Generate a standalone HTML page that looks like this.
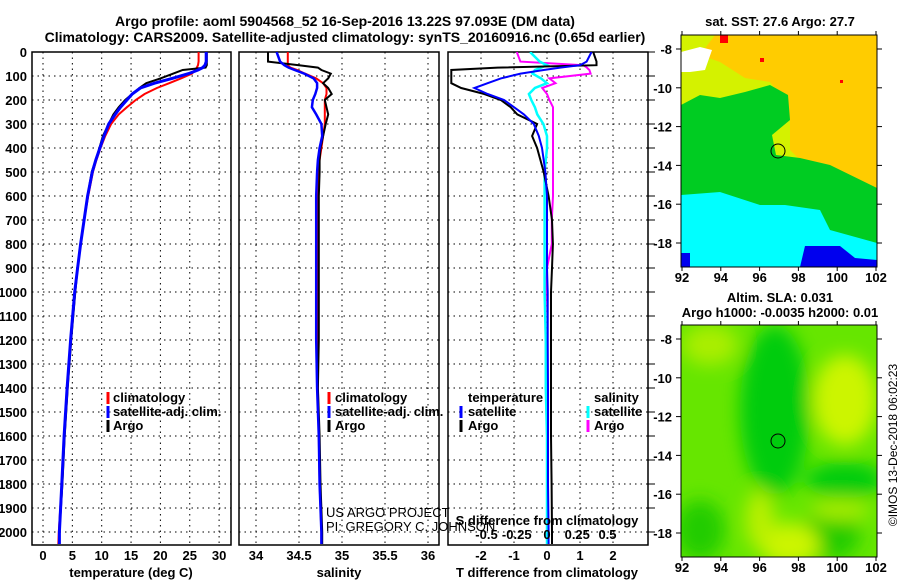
<!DOCTYPE html>
<html><head><meta charset="utf-8"><style>
html,body{margin:0;padding:0;background:#fff;}
svg{display:block;font-family:"Liberation Sans",Arial,sans-serif;}
.b{font-weight:bold;font-size:13px;}
</style></head><body>
<svg id="fig" width="900" height="580" viewBox="0 0 900 580" xmlns="http://www.w3.org/2000/svg">
<defs>
<filter id="blur" x="-10%" y="-10%" width="120%" height="120%"><feGaussianBlur stdDeviation="9"/></filter>
<clipPath id="cm1"><rect x="681" y="35" width="196" height="232"/></clipPath>
<clipPath id="cm2"><rect x="681" y="325" width="196" height="232"/></clipPath>
<clipPath id="cp1"><rect x="32" y="52" width="199" height="493"/></clipPath>
<clipPath id="cp2"><rect x="239" y="52" width="200" height="493"/></clipPath>
<clipPath id="cp3"><rect x="448" y="52" width="200" height="493"/></clipPath>
</defs>
<text x="345" y="26" text-anchor="middle" font-weight="bold" font-size="14">Argo profile: aoml 5904568_52 16-Sep-2016 13.22S 97.093E (DM data)</text>
<text x="345" y="42" text-anchor="middle" font-weight="bold" font-size="14">Climatology: CARS2009. Satellite-adjusted climatology: synTS_20160916.nc (0.65d earlier)</text>

<g id="maps">
<text x="780" y="26" text-anchor="middle" class="b">sat. SST: 27.6 Argo: 27.7</text>
<g clip-path="url(#cm1)">
<rect x="681" y="35" width="196" height="232" fill="#d4f200"/>
<polygon fill="#ffcc00" points="715,35 877,35 877,195 850,180 820,165 800,160 790,150 790,120 780,95 770,82 745,78 720,62 700,55"/>
<polygon fill="#00cc22" points="681,105 700,95 720,98 745,92 770,85 788,95 790,120 772,135 776,155 800,158 830,165 877,188 877,267 681,267"/>
<polygon fill="#00ffff" points="681,195 720,192 760,205 785,205 820,210 830,230 877,243 877,267 681,267"/>
<polygon fill="#0000ee" points="805,246 840,246 855,258 877,260 877,267 800,267"/>
<polygon fill="#0000ee" points="681,253 690,253 690,267 681,267"/>
<polygon fill="#ffffff" points="681,52 700,47 712,50 705,70 690,72 681,72"/>
<rect x="720" y="35" width="8" height="8" fill="#ff0000"/>
<rect x="760" y="58" width="4" height="4" fill="#ff0000"/>
<rect x="840" y="80" width="3" height="3" fill="#ff0000"/>
</g>
<rect x="681" y="35" width="196" height="232" fill="none" stroke="#000"/>
<circle cx="778" cy="151" r="7" fill="none" stroke="#000"/>
<text x="780" y="302" text-anchor="middle" class="b">Altim. SLA: 0.031</text>
<text x="780" y="317" text-anchor="middle" class="b">Argo h1000: -0.0035 h2000: 0.01</text>
<g clip-path="url(#cm2)">
<rect x="681" y="325" width="196" height="232" fill="#66e600"/>
<g filter="url(#blur)">
<ellipse cx="775" cy="410" rx="35" ry="85" fill="#00cc11"/>
<ellipse cx="845" cy="480" rx="40" ry="18" fill="#00cc11"/>
<ellipse cx="700" cy="530" rx="25" ry="30" fill="#22cc00"/>
<ellipse cx="830" cy="535" rx="30" ry="25" fill="#22cc00"/>
<ellipse cx="845" cy="400" rx="32" ry="45" fill="#ccf500"/>
<ellipse cx="790" cy="545" rx="30" ry="22" fill="#ccf500"/>
<ellipse cx="760" cy="520" rx="14" ry="30" fill="#bbf000"/>
<ellipse cx="710" cy="345" rx="28" ry="20" fill="#aaee00"/>
<ellipse cx="840" cy="510" rx="30" ry="10" fill="#aaee00"/>
</g>
</g>
<rect x="681" y="325" width="196" height="232" fill="none" stroke="#000"/>
<circle cx="778" cy="441" r="7" fill="none" stroke="#000"/>
<text transform="translate(897,445) rotate(-90)" text-anchor="middle" font-size="12">©IMOS 13-Dec-2018 06:02:23</text>
<g id="mapaxes"></g>
</g>
<g id="panels"></g>
<text x="326" y="517" font-size="13">US ARGO PROJECT</text>
<text x="326" y="531" font-size="13">PI: GREGORY C. JOHNSON</text>
</svg>
<script>
// depth levels (dbar) shared by profiles
const depthsShallow = [0,40,55,65,75,90,110,130,150,175,200,230,260,300,350,400,450,500,600,700,800,900,1000,1200,1400,1600,1800,2000,2050];
const tempClim = [26.5,26.5,26.4,26.2,25.9,25.4,23.5,21.5,19.4,17.3,15.8,14.3,12.9,11.6,10.6,9.8,9.1,8.5,7.7,7.0,6.4,5.9,5.4,4.7,4.1,3.6,3.2,2.7,2.6];
const tempSat  = [27.8,27.8,27.6,27.2,26.4,24.8,22.0,19.0,16.6,15.2,14.3,13.2,12.3,11.2,10.4,9.7,9.0,8.4,7.6,7.0,6.4,5.9,5.4,4.7,4.1,3.6,3.2,2.8,2.8];
const tempArgo = [27.9,27.9,27.9,27.7,23.8,22.2,20.0,17.6,16.4,15.2,14.0,12.9,12.0,11.2,10.2,9.6,9.0,8.3,7.6,7.0,6.4,5.9,5.5,4.8,4.2,3.7,3.3,2.8,2.8];
const salClim = [34.37,34.37,34.37,34.40,34.48,34.57,34.70,34.78,34.82,34.82,34.80,34.80,34.80,34.80,34.78,34.76,34.74,34.73,34.72,34.72,34.72,34.72,34.72,34.72,34.72,34.73,34.74,34.76,34.76];
const salSat  = [34.24,34.28,34.33,34.38,34.45,34.56,34.67,34.71,34.71,34.69,34.66,34.65,34.70,34.76,34.77,34.74,34.72,34.71,34.70,34.70,34.70,34.70,34.70,34.70,34.71,34.73,34.74,34.76,34.76];
const salArgo = [34.14,34.14,34.50,34.72,34.76,34.87,34.84,34.78,34.84,34.88,34.80,34.82,34.84,34.81,34.78,34.75,34.74,34.74,34.73,34.73,34.73,34.73,34.73,34.73,34.72,34.74,34.75,34.77,34.77];
const tdiffSat  = [1.35,1.2,1.0,0.4,-0.1,-0.8,-1.4,-1.8,-2.2,-1.8,-1.3,-1.0,-0.7,-0.4,-0.25,-0.15,-0.1,-0.05,0,0,0,0,0.02,0.02,0.03,0.03,0.03,0.05,0.05];
const tdiffArgo = [1.4,1.5,1.5,-1.5,-2.9,-2.9,-2.9,-2.9,-2.6,-1.9,-1.4,-1.1,-0.9,-0.3,-0.45,-0.3,-0.2,-0.1,0.05,0.15,0.18,0.15,0.12,0.12,0.12,0.12,0.14,0.15,0.15];
const sdiffSat  = [-0.14,-0.06,0.0,-0.05,-0.10,-0.12,-0.05,0.0,-0.10,-0.15,-0.13,-0.10,-0.08,-0.03,0.0,0.0,-0.01,-0.02,-0.02,-0.02,-0.02,-0.02,-0.02,-0.01,-0.01,0,0,0.0,0.0];
const sdiffArgo = [-0.25,-0.22,0.3,0.33,0.35,0.36,0.02,0.07,-0.04,0.0,0.02,0.05,0.05,0.05,0.05,0.05,0.05,0.05,0.05,0.04,0.04,0.0,-0.01,-0.01,-0.01,0.0,0.0,0.0,0.0];
const depthTicks = [0,100,200,300,400,500,600,700,800,900,1000,1100,1200,1300,1400,1500,1600,1700,1800,1900,2000];
const tempTicks = [0,5,10,15,20,25,30];
const salTicks = [34,34.5,35,35.5,36];
const salTickLabels = ["34","34.5","35","35.5","36"];
const tdiffTicks = [-2,-1,0,1,2];
const sdiffTicks = [-0.5,-0.25,0,0.25,0.5];
const sdiffTickLabels = ["-0.5","-0.25","0","0.25","0.5"];
const latTicks = [-8,-10,-12,-14,-16,-18];
const lonTicks = [92,94,96,98,100,102];

const NS='http://www.w3.org/2000/svg';
const panels=document.getElementById('panels');
function mk(tag,attrs,parent){const e=document.createElementNS(NS,tag);for(const k in attrs)e.setAttribute(k,attrs[k]);(parent||panels).appendChild(e);return e;}
const yD=d=>52+d*0.24;
const xT=t=>43+t*5.87;
const xS=s=>256+(s-34)*86;
const xTd=t=>547+t*33;
const xSd=s=>547+s*121;

function frame(x0,x1,clip,name){
  const g=mk('g',{});
  
  
  const f=mk('rect',{x:x0,y:52,width:x1-x0,height:493,fill:'none',stroke:'#000','stroke-width':1.5},g);
  
  
  const gg=mk('g',{'clip-path':'url(#'+clip+')'},g);
  depthTicks.forEach(d=>{if(d>0){mk('line',{x1:x0,x2:x1,y1:yD(d),y2:yD(d),stroke:'#000','stroke-dasharray':'1.5,4'},gg);}});
  return {g,gg};
}
function vgrid(gg,vals,fx){vals.forEach(v=>mk('line',{x1:fx(v),x2:fx(v),y1:52,y2:545,stroke:'#000','stroke-dasharray':'1.5,4'},gg));}
function line(gg,xs,fx,color,w,name){
  const pts=depthsShallow.map((d,i)=>fx(xs[i]).toFixed(1)+','+yD(d).toFixed(1)).join(' ');
  const p=mk('polyline',{points:pts,fill:'none',stroke:color,'stroke-width':w},gg);
  
  
}
function txt(x,y,s,anchor,parent,name,size){
  const t=mk('text',{x:x,y:y,'text-anchor':anchor||'start','font-weight':'bold','font-size':size||13},parent);
  t.textContent=s;
  
  
  return t;
}
function legendTick(x,y,color,parent){mk('line',{x1:x,x2:x,y1:y-6,y2:y+6,stroke:color,'stroke-width':3},parent);}

// Panel 1 temperature
let p=frame(32,231,'cp1','temperature-panel');
vgrid(p.gg,tempTicks,xT);
line(p.gg,tempClim,xT,'#ff0000',2,'temperature-climatology-line');
line(p.gg,tempArgo,xT,'#000000',2,'temperature-argo-line');
line(p.gg,tempSat,xT,'#0000ff',3,'temperature-satellite-line');
depthTicks.forEach(d=>txt(27,yD(d)+5,String(d),'end',p.g,'depth-tick-label'));
tempTicks.forEach(t=>txt(xT(t),560,String(t),'middle',p.g,'temperature-tick-label'));
txt(131,577,'temperature (deg C)','middle',p.g,'temperature-axis-title');
[['climatology','#ff0000',402],['satellite-adj. clim.','#0000ff',416],['Argo','#000',430]].forEach(l=>{legendTick(108,l[2]-4,l[1],p.g);txt(113,l[2],l[0],'start',p.g,'temperature-legend-entry');});

// Panel 2 salinity
p=frame(239,439,'cp2','salinity-panel');
vgrid(p.gg,salTicks,xS);
line(p.gg,salClim,xS,'#ff0000',2,'salinity-climatology-line');
line(p.gg,salArgo,xS,'#000000',2,'salinity-argo-line');
line(p.gg,salSat,xS,'#0000ff',2.5,'salinity-satellite-line');
salTicks.forEach((s,i)=>txt(xS(s),560,salTickLabels[i],'middle',p.g,'salinity-tick-label'));
txt(339,577,'salinity','middle',p.g,'salinity-axis-title');
[['climatology','#ff0000',402],['satellite-adj. clim.','#0000ff',416],['Argo','#000',430]].forEach(l=>{legendTick(329,l[2]-4,l[1],p.g);txt(335,l[2],l[0],'start',p.g,'salinity-legend-entry');});

// Panel 3 differences
p=frame(448,648,'cp3','difference-panel');
vgrid(p.gg,tdiffTicks,xTd);
line(p.gg,sdiffArgo,xSd,'#ff00ff',2,'salinity-diff-argo-line');
line(p.gg,sdiffSat,xSd,'#00ffff',2.5,'salinity-diff-satellite-line');
line(p.gg,tdiffArgo,xTd,'#000000',2,'temperature-diff-argo-line');
line(p.gg,tdiffSat,xTd,'#0000ff',2,'temperature-diff-satellite-line');
depthTicks.forEach(d=>mk('line',{x1:648,x2:655,y1:yD(d),y2:yD(d),stroke:'#000'},p.g));
tdiffTicks.forEach(t=>txt(xTd(t),560,String(t),'middle',p.g,'tdiff-tick-label'));
sdiffTicks.forEach((s,i)=>txt(xSd(s),539,sdiffTickLabels[i],'middle',p.g,'sdiff-tick-label'));
txt(547,525,'S difference from climatology','middle',p.g,'sdiff-axis-title');
txt(547,577,'T difference from climatology','middle',p.g,'tdiff-axis-title');
txt(468,402,'temperature','start',p.g,'diff-legend-temperature-header');
legendTick(461,412,'#0000ff',p.g);txt(468,416,'satellite','start',p.g,'diff-legend-entry');
legendTick(461,426,'#000',p.g);txt(468,430,'Argo','start',p.g,'diff-legend-entry');
txt(594,402,'salinity','start',p.g,'diff-legend-salinity-header');
legendTick(588,412,'#00ffff',p.g);txt(594,416,'satellite','start',p.g,'diff-legend-entry');
legendTick(588,426,'#ff00ff',p.g);txt(594,430,'Argo','start',p.g,'diff-legend-entry');

// map axes
const ma=document.getElementById('mapaxes');
[[49,35,267,282],[339,325,557,572]].forEach(m=>{
  latTicks.forEach(la=>{const y=m[0]+(-8-la)*19.4;
    mk('line',{x1:676,x2:681,y1:y,y2:y,stroke:'#000'},ma);mk('line',{x1:877,x2:882,y1:y,y2:y,stroke:'#000'},ma);
    txt(672,y+5,String(la),'end',ma,'latitude-tick-label');});
  lonTicks.forEach(lo=>{const x=682+(lo-92)*19.4;
    mk('line',{x1:x,x2:x,y1:m[2],y2:m[2]+4,stroke:'#000'},ma);mk('line',{x1:x,x2:x,y1:m[1]-4,y2:m[1],stroke:'#000'},ma);
    txt(x,m[3],String(lo),'middle',ma,'longitude-tick-label');});
});
</script>
</body></html>
